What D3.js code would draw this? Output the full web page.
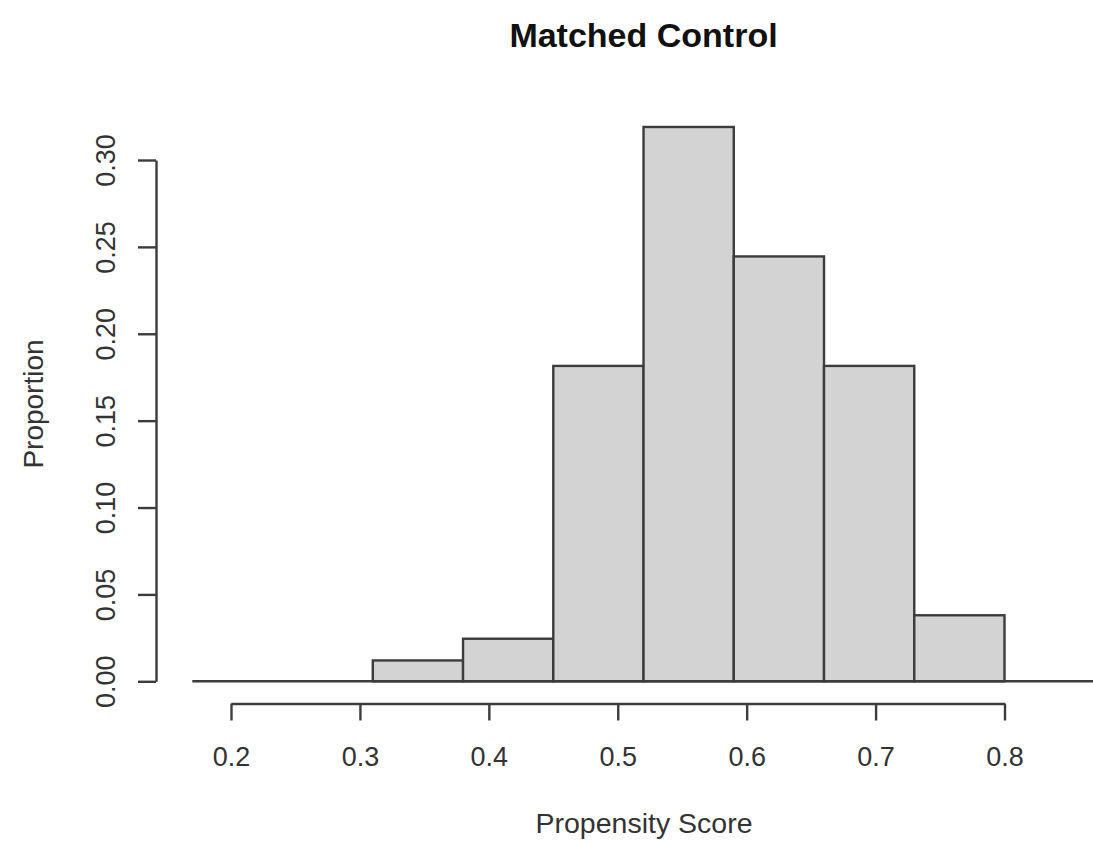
<!DOCTYPE html>
<html><head><meta charset="utf-8">
<script src="https://cdn.jsdelivr.net/npm/d3@7"></script>
<style>body{margin:0;background:#fff}svg{display:block}text{font-family:"Liberation Sans",Arial,Helvetica,sans-serif}</style>
</head><body>
<svg id="c" width="1093" height="843"></svg>
<script>
const binEdges = [0.31, 0.38, 0.45, 0.52, 0.59, 0.66, 0.73, 0.80];
const proportions = [0.012, 0.0245, 0.1815, 0.319, 0.2445, 0.1815, 0.038];
const xTicks = [0.2, 0.3, 0.4, 0.5, 0.6, 0.7, 0.8];
const yTicks = [0.00, 0.05, 0.10, 0.15, 0.20, 0.25, 0.30];
const title = "Matched Control";
const xLabel = "Propensity Score";
const yLabel = "Proportion";

const svg = d3.select("#c");
const x = d3.scaleLinear().domain([0.2, 0.8]).range([231, 1004.5]);
const y = d3.scaleLinear().domain([0, 0.30]).range([681.3, 160]);
const dark = "#3c3c3c";

const bins = proportions.map((v, i) => ({x0: binEdges[i], x1: binEdges[i + 1], v}));

svg.append("g").selectAll("rect").data(bins).join("rect")
  .attr("x", d => x(d.x0)).attr("y", d => y(d.v))
  .attr("width", d => x(d.x1) - x(d.x0)).attr("height", d => y(0) - y(d.v))
  .attr("fill", "#d3d3d3").attr("stroke", dark).attr("stroke-width", 2.4);

// baseline
svg.append("line").attr("x1", x(0.17)).attr("x2", 1093).attr("y1", y(0)).attr("y2", y(0))
  .attr("stroke", dark).attr("stroke-width", 2.4);

// x axis
const xa = svg.append("g").attr("transform", "translate(0,703.5)")
  .call(d3.axisBottom(x).tickValues(xTicks).tickFormat(d3.format(".1f")).tickSizeInner(17).tickSizeOuter(0));
// y axis
const ya = svg.append("g").attr("transform", "translate(156,0)")
  .call(d3.axisLeft(y).tickValues(yTicks).tickFormat(d3.format(".2f")).tickSizeInner(18).tickSizeOuter(0));
[xa, ya].forEach(g => {
  g.select(".domain").attr("stroke", dark).attr("stroke-width", 2.4);
  g.selectAll(".tick line").attr("stroke", dark).attr("stroke-width", 2.4);
  g.selectAll("text").attr("fill", "#333").style("font-size", "27px").style("font-family", "'Liberation Sans',Arial,sans-serif");
});
xa.selectAll(".tick text").attr("dy", null).attr("y", 62.5);
ya.selectAll(".tick text")
  .attr("text-anchor", "middle").attr("dy", null)
  .attr("x", 0).attr("y", 0)
  .attr("transform", "translate(-41,0) rotate(-90)");

svg.append("text").attr("x", 643.5).attr("y", 46.5).attr("text-anchor", "middle")
  .style("font-size", "34px").style("font-weight", "bold").attr("fill", "#111").text(title);
svg.append("text").attr("x", 644).attr("y", 833).attr("text-anchor", "middle")
  .style("font-size", "28.5px").attr("fill", "#333").text(xLabel);
svg.append("text").attr("transform", "translate(43,404) rotate(-90)").attr("text-anchor", "middle")
  .style("font-size", "28px").attr("fill", "#333").text(yLabel);
</script>
</body></html>
